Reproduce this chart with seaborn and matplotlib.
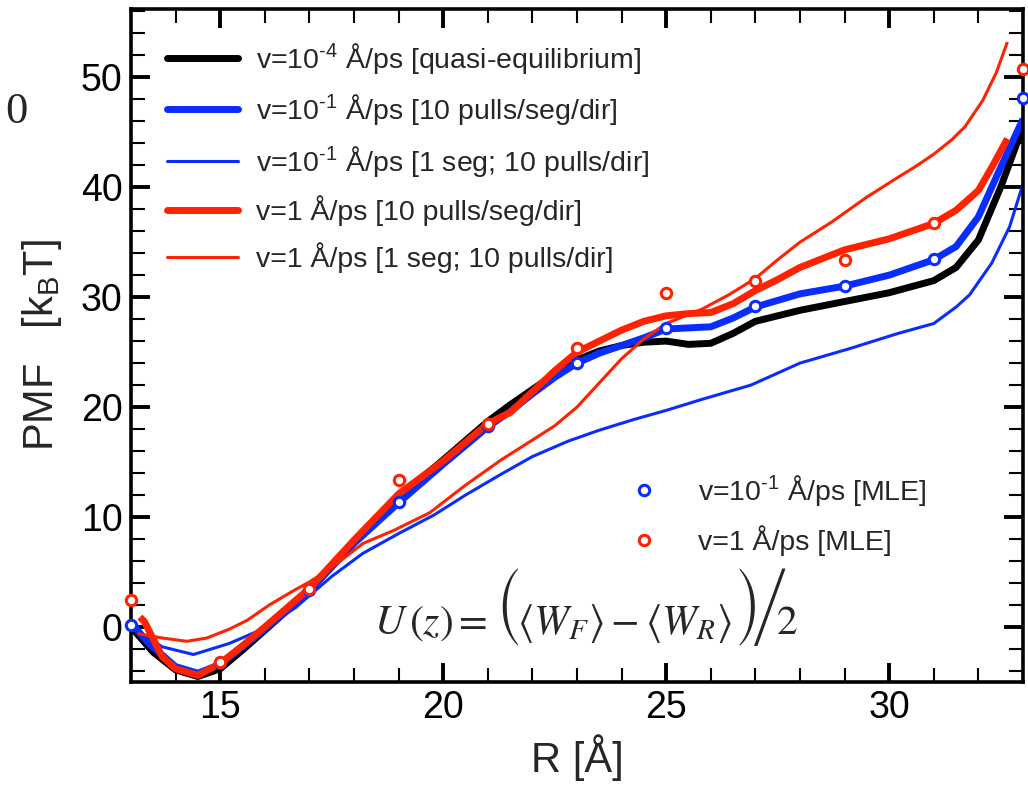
import numpy as np
import pandas as pd
import matplotlib
matplotlib.use("Agg")
import matplotlib.pyplot as plt
from matplotlib.lines import Line2D
import seaborn as sns

# ---------------- data ----------------
x_black = [13.0, 13.5, 14.0, 14.5, 15.0, 15.5, 16.0, 17.0, 18.0, 19.0, 20.0, 21.0, 21.5, 22.0,
           22.5, 23.0, 23.5, 24.0, 24.5, 25.0, 25.5, 26.0, 26.5, 27.0, 28.0, 29.0, 30.0, 31.0,
           31.5, 32.0, 32.5, 33.0]
y_black = [0.0, -2.3, -3.9, -4.5, -3.8, -2.1, -0.3, 3.3, 7.8, 11.8, 15.2, 18.7, 20.2, 21.6,
           23.0, 24.3, 25.1, 25.6, 25.9, 26.0, 25.7, 25.8, 26.7, 27.8, 28.8, 29.6, 30.4, 31.5,
           32.7, 35.2, 40.0, 45.5]

x_blue_thick = [13.0, 13.4, 14.0, 14.5, 15.0, 15.5, 16.0, 17.0, 18.0, 19.0, 20.0, 21.0, 21.5,
                22.0, 22.5, 23.0, 23.5, 24.0, 24.5, 25.0, 25.5, 26.0, 26.5, 27.0, 28.0, 29.0,
                30.0, 31.0, 31.5, 32.0, 32.5, 33.0]
y_blue_thick = [0.4, -1.5, -3.6, -4.2, -3.4, -1.8, -0.2, 3.3, 7.6, 11.3, 14.8, 18.2, 19.6,
                21.2, 22.7, 24.0, 24.9, 25.6, 26.3, 27.1, 27.2, 27.3, 28.1, 29.1, 30.3, 31.0,
                32.0, 33.4, 34.6, 37.3, 41.8, 46.2]

x_blue_thin = [13.0, 13.7, 14.4, 15.2, 16.0, 16.7, 17.5, 18.2, 19.0, 19.8, 20.5, 21.3, 22.0,
               22.8, 23.5, 24.3, 25.0, 25.8, 26.9, 28.0, 29.1, 30.2, 31.0, 31.5, 31.8, 32.3,
               32.7, 33.0]
y_blue_thin = [0.0, -1.8, -2.5, -1.5, -0.1, 1.8, 4.6, 6.7, 8.5, 10.2, 12.0, 13.9, 15.5,
               16.9, 17.9, 18.9, 19.7, 20.7, 22.0, 24.0, 25.3, 26.7, 27.6, 29.1, 30.2, 33.1,
               36.4, 40.3]

x_red_thick = [13.2, 13.3, 13.7, 14.0, 14.5, 15.0, 15.5, 16.0, 17.0, 18.0, 19.0, 20.0, 21.0,
               21.5, 22.0, 22.5, 23.0, 23.5, 24.0, 24.5, 25.0, 25.5, 26.0, 26.5, 27.0, 27.5,
               28.0, 29.0, 30.0, 31.0, 31.5, 32.0, 32.3, 32.65]
y_red_thick = [0.9, 0.5, -2.7, -3.8, -4.4, -3.3, -1.7, 0.0, 3.5, 7.9, 12.1, 15.1, 18.5,
               19.5, 21.4, 23.3, 25.0, 26.0, 27.0, 27.8, 28.3, 28.5, 28.6, 29.4, 30.6, 31.6,
               32.7, 34.3, 35.3, 36.7, 37.9, 39.7, 41.8, 44.4]

x_red_thin = [13.15, 13.7, 14.25, 14.7, 15.2, 15.6, 16.1, 16.6, 17.0, 17.5, 18.2, 18.9, 19.7,
              20.5, 21.3, 22.0, 22.5, 23.0, 23.5, 24.0, 24.5, 25.0, 25.8, 26.4, 27.0, 27.5,
              28.0, 28.7, 29.5, 30.2, 30.6, 31.0, 31.4, 31.7, 32.1, 32.4, 32.65]
y_red_thin = [-0.6, -1.0, -1.3, -1.0, -0.2, 0.6, 2.0, 3.2, 4.1, 5.4, 7.6, 8.8, 10.4,
              12.9, 15.2, 17.0, 18.3, 20.0, 22.2, 24.4, 26.2, 27.6, 28.9, 30.2, 31.7, 33.4,
              35.0, 36.8, 39.1, 40.9, 41.9, 43.0, 44.3, 45.5, 47.9, 50.4, 53.2]

x_mle = [13, 15, 17, 19, 21, 23, 25, 27, 29, 31, 33]
y_mle_blue = [0.2, -3.3, 3.4, 11.4, 18.3, 24.0, 27.2, 29.2, 31.0, 33.5, 48.1]
y_mle_red = [2.5, -3.2, 3.5, 13.4, 18.5, 25.4, 30.4, 31.5, 33.4, 36.7, 50.7]

labels_lines = [
    r"v=10$^{\text{-}4}$ Å/ps [quasi-equilibrium]",
    r"v=10$^{\text{-}1}$ Å/ps [10 pulls/seg/dir]",
    r"v=10$^{\text{-}1}$ Å/ps [1 seg; 10 pulls/dir]",
    r"v=1 Å/ps [10 pulls/seg/dir]",
    r"v=1 Å/ps [1 seg; 10 pulls/dir]",
]
labels_mle = [r"v=10$^{\text{-}1}$ Å/ps [MLE]", r"v=1 Å/ps [MLE]"]
x_ticks = [15, 20, 25, 30]
y_ticks = [0, 10, 20, 30, 40, 50]

# ---------------- style ----------------
sns.set_style("ticks")
plt.rcParams["font.family"] = ["Liberation Sans", "DejaVu Sans"]
plt.rcParams["mathtext.fontset"] = "custom"
plt.rcParams["mathtext.rm"] = "Liberation Sans"
plt.rcParams["mathtext.it"] = "Liberation Sans:italic"
plt.rcParams["mathtext.bf"] = "Liberation Sans:bold"

BLACK = "#000000"
BLUE = "#0a2dff"
RED = "#ff2200"
THICK = 5.0
THIN = 2.2

fig = plt.figure(figsize=(10.28, 7.86), dpi=100)
ax = fig.add_axes([131 / 1028, 104 / 786, 892 / 1028, 673 / 786])

series = [
    (x_black, y_black, BLACK, THICK),
    (x_blue_thick, y_blue_thick, BLUE, THICK),
    (x_blue_thin, y_blue_thin, BLUE, THIN),
    (x_red_thick, y_red_thick, RED, THICK),
    (x_red_thin, y_red_thin, RED, THIN),
]
handles = []
for (xs, ys, c, lw), lab in zip(series, labels_lines):
    df = pd.DataFrame({"R": xs, "PMF": ys})
    sns.lineplot(data=df, x="R", y="PMF", ax=ax, color=c, lw=lw, sort=False,
                 estimator=None, legend=False, solid_capstyle="butt")
    handles.append(Line2D([], [], color=c, lw=lw, label=lab))

for ys, c in [(y_mle_blue, BLUE), (y_mle_red, RED)]:
    df = pd.DataFrame({"R": x_mle, "PMF": ys})
    sns.scatterplot(data=df, x="R", y="PMF", ax=ax, marker="o", s=56,
                    facecolor="white", edgecolor=c, linewidth=2.2, zorder=5,
                    clip_on=False, legend=False)

ax.set_xlim(13, 33)
ax.set_ylim(-5, 56.2)
ax.set_xticks(x_ticks)
ax.set_yticks(y_ticks)
ax.xaxis.set_minor_locator(matplotlib.ticker.MultipleLocator(1))
ax.yaxis.set_minor_locator(matplotlib.ticker.MultipleLocator(2))
ax.tick_params(which="both", direction="in", top=True, right=True, labelsize=27,
               colors="black")
ax.tick_params(which="major", length=13.5, width=2.8, pad=6)
ax.tick_params(which="minor", length=10, width=1.5)
for sp in ax.spines.values():
    sp.set_linewidth(2.6)
    sp.set_color("black")

ax.set_xlabel("R [Å]", fontsize=30, labelpad=6)
ax.set_ylabel(r"PMF   [k$_\mathregular{B}$T]", fontsize=30, labelpad=12)

leg1 = ax.legend(handles=handles, loc="upper left", bbox_to_anchor=(0.04, 0.953),
                 frameon=False, fontsize=20.5, handlelength=2.5, handletextpad=0.65,
                 labelspacing=0.58, borderpad=0, borderaxespad=0)
ax.add_artist(leg1)
mle_handles = [
    Line2D([], [], ls="none", marker="o", ms=7.5, mew=2.2, mfc="white", mec=BLUE, label=labels_mle[0]),
    Line2D([], [], ls="none", marker="o", ms=7.5, mew=2.2, mfc="white", mec=RED, label=labels_mle[1]),
]
ax.legend(handles=mle_handles, loc="upper left", bbox_to_anchor=(0.535, 0.31),
          frameon=False, fontsize=20.5, handlelength=2.5, handletextpad=0.65,
          labelspacing=0.58, borderpad=0, borderaxespad=0)

# equation U(z) = ( <W_F> - <W_R> ) / 2, assembled from pieces
def axfrac(px, py):
    return ((px - 131) / 892, (682 - py) / 673)

EQ_FS = 30
base = 634
pieces = [
    (374, r"$U\,(z) = $", dict(math_fontfamily="stix", fontsize=EQ_FS)),
    (496, "(", dict(family="STIXSizeTwoSym", fontsize=EQ_FS)),
    (517, r"$\langle W_F\rangle - \langle W_R\rangle$", dict(math_fontfamily="stix", fontsize=EQ_FS)),
    (734, ")", dict(family="STIXSizeTwoSym", fontsize=EQ_FS)),
    (753, "/", dict(family="STIXSizeTwoSym", fontsize=EQ_FS)),
    (776, r"$2$", dict(math_fontfamily="stix", fontsize=EQ_FS)),
]
for px, s, kw in pieces:
    fx, fy = axfrac(px, base)
    ax.text(fx, fy, s, transform=ax.transAxes, ha="left", va="baseline", **kw)

fig.text(16 / 1028, 1 - 112 / 786, "0", fontsize=32, family="Liberation Serif",
         ha="center", va="center")

fig.savefig("out.png", dpi=100)
